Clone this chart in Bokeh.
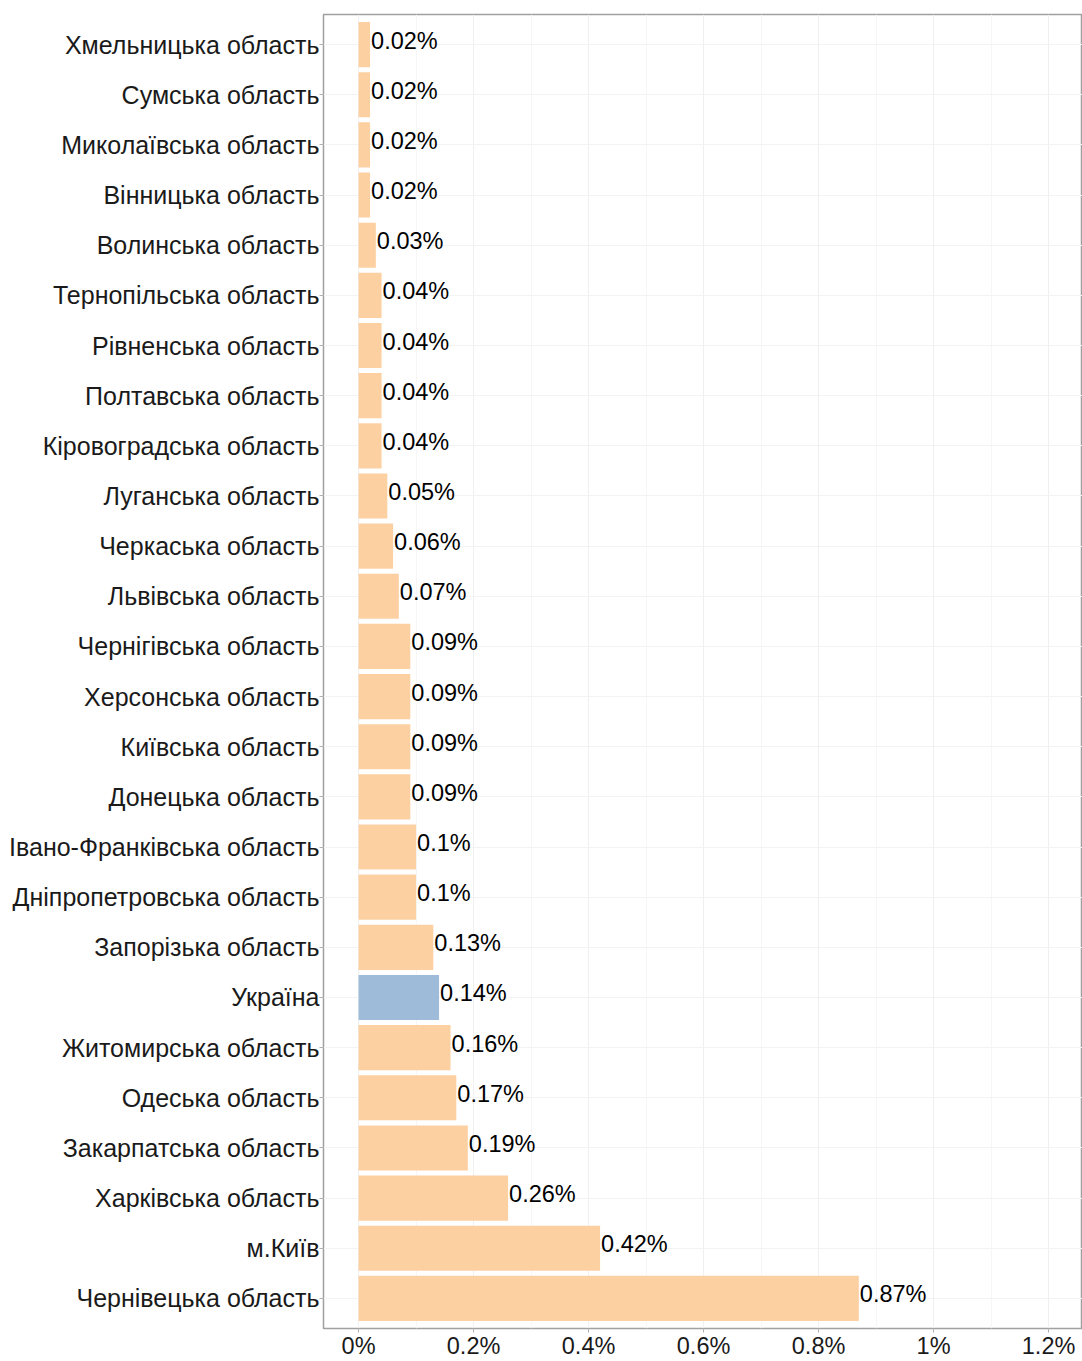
from bokeh.plotting import figure
from bokeh.models import Range1d, FixedTicker, ColumnDataSource
from bokeh.core.properties import value
from bokeh.embed import file_html
from bokeh.resources import INLINE

# top-to-bottom order as shown
regions = [
    "Хмельницька область", "Сумська область", "Миколаївська область", "Вінницька область",
    "Волинська область", "Тернопільська область", "Рівненська область", "Полтавська область",
    "Кіровоградська область", "Луганська область", "Черкаська область", "Львівська область",
    "Чернігівська область", "Херсонська область", "Київська область", "Донецька область",
    "Івано-Франківська область", "Дніпропетровська область", "Запорізька область", "Україна",
    "Житомирська область", "Одеська область", "Закарпатська область", "Харківська область",
    "м.Київ", "Чернівецька область",
]
values = [0.02, 0.02, 0.02, 0.02, 0.03, 0.04, 0.04, 0.04, 0.04, 0.05, 0.06, 0.07,
          0.09, 0.09, 0.09, 0.09, 0.1, 0.1, 0.13, 0.14, 0.16, 0.17, 0.19, 0.26, 0.42, 0.87]
labels = ["0.02%", "0.02%", "0.02%", "0.02%", "0.03%", "0.04%", "0.04%", "0.04%", "0.04%",
          "0.05%", "0.06%", "0.07%", "0.09%", "0.09%", "0.09%", "0.09%", "0.1%", "0.1%",
          "0.13%", "0.14%", "0.16%", "0.17%", "0.19%", "0.26%", "0.42%", "0.87%"]
x_ticks = [0, 0.2, 0.4, 0.6, 0.8, 1.0, 1.2]
x_tick_labels = ["0%", "0.2%", "0.4%", "0.6%", "0.8%", "1%", "1.2%"]

n = len(regions)
ypos = [n - i for i in range(n)]
colors = ["#9ebcda" if r == "Україна" else "#fdd0a2" for r in regions]

src = ColumnDataSource(dict(y=ypos, v=values, lab=labels, c=colors, name=regions))

p = figure(width=1082, height=1361, output_backend="svg", toolbar_location=None,
           x_range=Range1d(-0.061, 1.259), y_range=Range1d(0.4, n + 0.6),
           min_border_left=323, min_border_top=14, min_border_right=0, min_border_bottom=32)

p.hbar(y="y", left=0, right="v", height=0.9, fill_color="c", line_color=None, source=src)
p.text(x="v", y="y", text="lab", source=src, text_font=value("Liberation Sans"),
       text_font_size="23.5px", text_baseline="middle", text_align="left",
       text_color="#000000", x_offset=1, y_offset=-4)

p.xaxis.ticker = FixedTicker(ticks=x_ticks, minor_ticks=[0.1, 0.3, 0.5, 0.7, 0.9, 1.1])
p.xaxis.major_label_overrides = {t: l for t, l in zip(x_ticks, x_tick_labels)}
p.yaxis.ticker = FixedTicker(ticks=ypos)
p.yaxis.major_label_overrides = {y: r for y, r in zip(ypos, regions)}

for ax in (p.xaxis, p.yaxis):
    ax.major_label_text_font = "Liberation Sans"
    ax.major_label_text_color = "#1a1a1a"
    ax.axis_line_color = None
    ax.major_tick_line_color = "#b0b0b0"
    ax.major_tick_out = 4
    ax.major_tick_in = 0
    ax.minor_tick_line_color = None
p.yaxis.major_label_standoff = 0
p.xaxis.major_label_standoff = 0
p.yaxis.major_label_text_font_size = "25px"
p.xaxis.major_label_text_font_size = "23.5px"

p.xgrid.grid_line_color = "#f0f0f0"
p.xgrid.minor_grid_line_color = "#f6f6f6"
p.ygrid.grid_line_color = "#f3f3f3"

p.outline_line_color = "#a0a0a0"
p.outline_line_width = 1.5
p.background_fill_color = "white"
p.border_fill_color = "white"

open("out.html", "w").write(file_html(p, INLINE))
